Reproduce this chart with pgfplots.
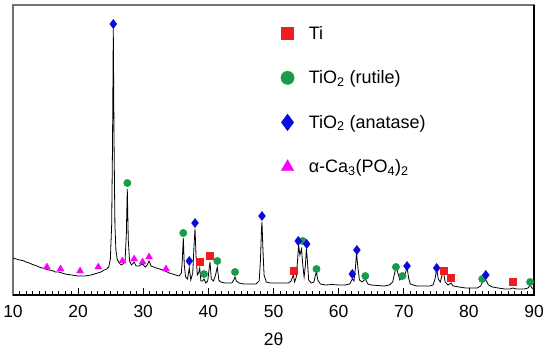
\documentclass[border=0pt]{standalone}
\usepackage{pgfplots}
\pgfplotsset{compat=1.18}
\usepackage{fontspec}
\setmainfont{Liberation Sans}
\definecolor{tired}{RGB}{240,28,32}
\definecolor{rutg}{RGB}{26,155,74}
\definecolor{anab}{RGB}{10,10,220}
\definecolor{capm}{RGB}{250,0,250}
\begin{document}
\begin{tikzpicture}
\begin{axis}[
  scale only axis, width=521pt, height=290pt,
  xmin=10, xmax=90, ymin=0, ymax=290,
  xtick={10,20,...,90}, minor x tick num=9,
  ytick=\empty,
  xtick pos=bottom, tick align=inside,
  major tick length=7pt, minor tick length=4pt,
  tick style={black, line width=0.6pt},
  axis line style={draw=black!55, line width=1.1pt},
  /pgf/number format/assume math mode=true,
  tick label style={font=\fontsize{17.5}{20}\selectfont},
  xticklabel style={yshift=-7pt},
  xlabel={2θ},
  xlabel style={font=\fontsize{17.5}{20}\selectfont, at={(axis description cs:0.5,-0.152)}, anchor=center},
  legend style={draw=none, fill=none, font=\fontsize{18}{21}\selectfont,
    at={(rel axis cs:0.507,0.942)}, anchor=north west, row sep=26pt},
  legend cell align=left,
  legend image code/.code={\path (-7pt,0pt) (19pt,0pt); \draw[#1, mark options={scale=1.8}] plot coordinates {(0pt,0pt)};},
  clip=false,
]
\coordinate (bl) at (rel axis cs:0,0);
\coordinate (tr) at (rel axis cs:1,1);
\draw[black, line width=1.1pt] (rel axis cs:0,0) -- (rel axis cs:1,0) -- (rel axis cs:1,1);
\addplot[black, line width=0.8pt, forget plot] coordinates {
(10,37)(10.5,36)(11,35)(11.5,34.5)(12,33)(12.5,32)(13,30.5)(13.5,29.5)(14,28)(14.5,27)
(15,26)(15.5,25)(16,24.5)(16.5,23)(17,23)(17.5,22)(18,21)(18.5,20.5)(19,20)(19.5,19.5)
(20,19)(20.5,19)(21,19)(21.5,19.5)(22,20)(22.5,21)(23,22)(23.5,23)(24,25)(24.4,26)
(24.7,28)(24.95,36)(25.15,70)(25.28,150)(25.4,266)(25.52,150)(25.65,70)(25.8,45)(26.0,36)
(26.3,32)(26.6,30)(26.9,31)(27.2,33)(27.4,60)(27.55,106)(27.7,55)(27.9,34)(28.2,30)
(28.6,33)(28.9,29)(29.3,29)(29.9,31)(30.3,28)(30.6,30)(30.9,34)(31.2,29)(31.6,28)
(32,27)(32.5,26)(33,25)(33.5,23.5)(34,22)(34.5,21)(35,20)(35.5,19)(35.85,22)(36.0,35)
(36.15,57)(36.3,30)(36.5,18)(36.8,16)(37.07,27)(37.3,15)(37.6,22)(37.8,50)(37.95,66)
(38.1,40)(38.3,20)(38.5,22)(38.67,27)(38.85,14)(39.1,14)(39.33,16)(39.6,12)(39.9,14)
(40.1,25)(40.25,33)(40.45,16)(40.8,14)(41.1,20)(41.37,28)(41.6,15)(41.9,13)(42.5,12)
(43,12)(43.6,12)(43.9,15)(44.09,18)(44.3,14)(44.7,12)(45.5,11)(46.5,11)(47.3,11)
(47.8,14)(48.0,35)(48.15,65)(48.23,73)(48.35,50)(48.55,20)(48.9,13)(49.5,12)(50.5,12)
(51.5,12)(52.3,12)(52.7,14)(53.04,20)(53.25,13)(53.5,18)(53.7,35)(53.85,50)(54.05,40)
(54.3,46)(54.5,30)(54.7,18)(54.9,30)(55.05,46)(55.2,35)(55.4,15)(55.8,12)(56.2,13)
(56.45,20)(56.6,23)(56.8,15)(57.2,11)(58,10)(59,10.5)(60,10)(61,10)(61.7,11)(62.1,16)
(62.35,14)(62.55,25)(62.75,42)(62.95,28)(63.2,15)(63.6,13)(64.1,16)(64.5,11)(65,10)
(66,9.5)(67,9)(67.8,10)(68.3,13)(68.6,22)(68.85,28)(69.1,22)(69.4,15)(69.8,19)(70.1,18)
(70.35,24)(70.5,28)(70.75,17)(71,11)(72,9)(73,9)(74,9)(74.5,10)(74.8,16)(75.05,26)
(75.3,16)(75.6,13)(75.9,20)(76.1,23)(76.35,13)(76.8,10)(77.25,12)(77.6,9)(78.5,8)
(79.5,7)(80.5,7)(81.3,7)(81.8,9)(82.1,13)(82.4,16)(82.7,14)(83,10)(83.6,8)(84.5,7)
(85.5,6)(86.3,6)(86.7,7)(87.3,6)(88.5,6)(89.1,7)(89.4,10)(89.7,7)(90,6)
};
\addplot[only marks, mark=square*, mark size=3.4pt, draw=tired, fill=tired] coordinates {
(38.67,33)(40.25,39)(53.04,24)(76.1,24)(77.25,17)(86.7,13)};
\addlegendentry{Ti}
\addplot[only marks, mark=*, mark size=3.7pt, draw=rutg, fill=rutg] coordinates {
(27.56,112)(36.15,62)(39.33,21)(41.37,34)(44.09,23)(54.5,54)(56.6,26)(64.1,19)(68.8,28)(69.8,19)(82.06,16)(89.4,13)};
\addlegendentry{TiO\textsubscript{2} (rutile)}
\addplot[only marks, mark=diamond*, mark size=4.6pt, draw=anab, fill=anab] coordinates {
(25.4,271)(37.07,34)(37.95,72)(48.23,79)(53.8,54)(55.1,51)(62.1,21)(62.8,45)(70.5,29)(75.05,27)(82.6,20)};
\addlegendentry{TiO\textsubscript{2} (anatase)}
\addplot[only marks, mark=triangle*, mark size=4pt, draw=capm, fill=capm] coordinates {
(15.2,28)(17.3,26)(20.3,24)(23.1,28)(26.8,34)(28.6,36)(29.9,33)(30.9,38)(33.5,26)};
\addlegendentry{α-Ca\textsubscript{3}(PO\textsubscript{4})\textsubscript{2}}
\end{axis}
\pgfresetboundingbox
\path ([xshift=-13pt,yshift=-58pt]bl) rectangle ([xshift=16pt,yshift=5pt]tr);
\end{tikzpicture}
\end{document}
